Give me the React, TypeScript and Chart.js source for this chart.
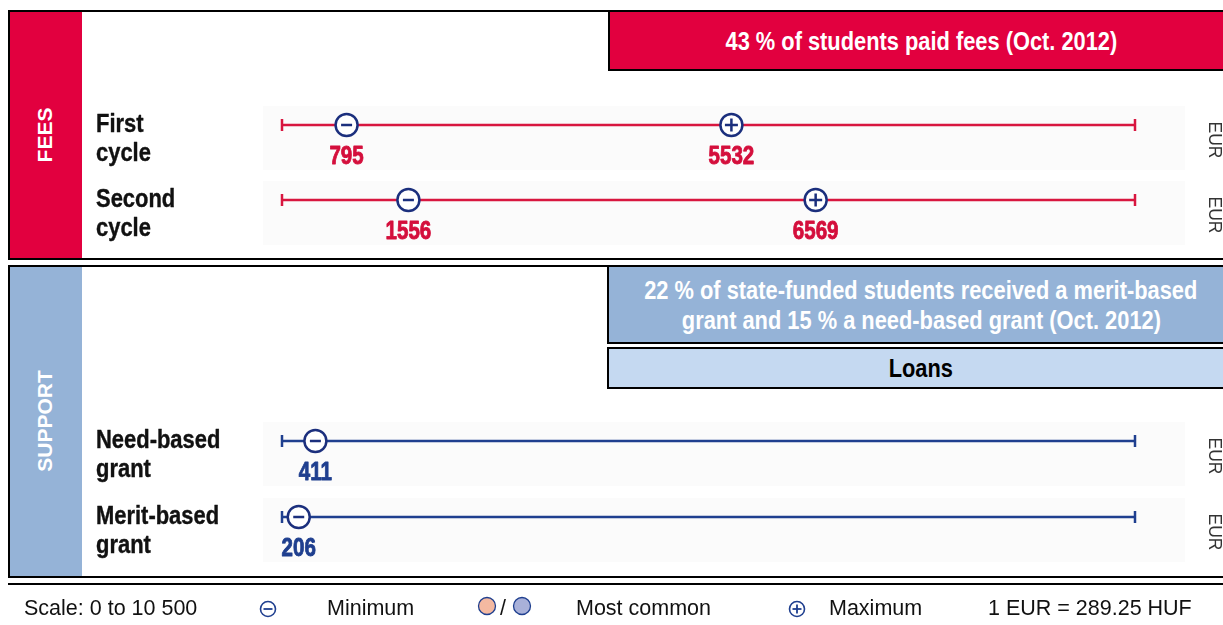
import React, { useEffect, useRef } from "react";
import { Chart, registerables } from "chart.js";

Chart.register(...registerables);

// ---------- data ----------
const SCALE_MIN = 0;
const SCALE_MAX = 10500;

const feesRows = ["First cycle", "Second cycle"];
const feesRowLines = [["First", "cycle"], ["Second", "cycle"]];
const feesMinimum = [795, 1556];
const feesMaximum = [5532, 6569];

const supportRows = ["Need-based grant", "Merit-based grant"];
const supportRowLines = [["Need-based", "grant"], ["Merit-based", "grant"]];
const supportMinimum = [411, 206];

const UNIT = "EUR";
const feesTitle = "FEES";
const supportTitle = "SUPPORT";
const feesNote = "43 % of students paid fees (Oct. 2012)";
const supportNote = [
  "22 % of state-funded students received a merit-based",
  "grant and 15 % a need-based grant (Oct. 2012)",
];
const loansNote = "Loans";
const legendScale = "Scale: 0 to 10 500";
const legendMin = "Minimum";
const legendCommon = "Most common";
const legendMax = "Maximum";
const legendRate = "1 EUR = 289.25 HUF";

// ---------- styles ----------
const RED_BG = "#e2003f";
const RED_LINE = "#d8163f";
const RED_TEXT = "#d40f3c";
const NAVY = "#1b2f7d";
const BLUE_LINE = "#1f3f8f";
const BLUE_TEXT = "#1f3f8f";
const BLUE_BG = "#95b3d7";
const LOANS_BG = "#c5d9f1";
const FONT = '"Liberation Sans", Arial, Helvetica, sans-serif';
const SQUEEZE = 0.873;

function drawSqueezed(ctx: CanvasRenderingContext2D, text: string, x: number, y: number, font: string, color: string, align: CanvasTextAlign, squeeze: number, extraBold: number) {
  ctx.save();
  ctx.translate(x, y);
  ctx.scale(squeeze, 1);
  ctx.font = font;
  ctx.fillStyle = color;
  ctx.textAlign = align;
  ctx.textBaseline = "alphabetic";
  ctx.fillText(text, 0, 0);
  if (extraBold > 0) {
    ctx.strokeStyle = color;
    ctx.lineWidth = extraBold;
    ctx.lineJoin = "round";
    ctx.strokeText(text, 0, 0);
  }
  ctx.restore();
}

function makeDecoPlugin(rowLines: string[][], mins: number[], maxs: number[] | null, valueColor: string) {
  return {
    id: "rowDeco",
    beforeDatasetsDraw(chart: any) {
      const { ctx, chartArea, scales } = chart;
      const y = scales.y;
      ctx.save();
      ctx.fillStyle = "#fbfbfb";
      rowLines.forEach((_l, i) => {
        const py = y.getPixelForValue(i);
        const left = chartArea.left - 19;
        const right = chartArea.right + 50;
        ctx.fillRect(left, py - 19, right - left, 64);
      });
      ctx.restore();
    },
    afterDatasetsDraw(chart: any) {
      const { ctx, chartArea, scales } = chart;
      const x = scales.x;
      const y = scales.y;
      rowLines.forEach((lines, i) => {
        const py = y.getPixelForValue(i);
        lines.forEach((ln, k) => {
          drawSqueezed(ctx, ln, 96, py + 7 + k * 29, `bold 25.5px ${FONT}`, "#111", "left", 0.86, 0.4);
        });
        drawSqueezed(ctx, String(mins[i]), x.getPixelForValue(mins[i]), py + 39, `bold 26px ${FONT}`, valueColor, "center", 0.79, 0.9);
        if (maxs) {
          drawSqueezed(ctx, String(maxs[i]), x.getPixelForValue(maxs[i]), py + 39, `bold 26px ${FONT}`, valueColor, "center", 0.79, 0.9);
        }
        ctx.save();
        ctx.translate(chartArea.right + 79, py + 15);
        ctx.rotate(Math.PI / 2);
        ctx.font = `17.5px ${FONT}`;
        ctx.fillStyle = "#333";
        ctx.textAlign = "center";
        ctx.textBaseline = "middle";
        ctx.fillText(UNIT, 0, 0);
        ctx.restore();
      });
    },
  };
}

function buildConfig(rows: string[], rowLines: string[][], mins: number[], maxs: number[] | null, lineColor: string, valueColor: string, padTop: number, padBottom: number) {
  const datasets: any[] = [];
  datasets.push({
    label: "min-sign",
    data: rows.map((r, i) => ({ x: mins[i], y: r })),
    showLine: false,
    pointStyle: "line",
    pointRadius: 5.5,
    pointBorderColor: NAVY,
    pointBorderWidth: 2.5,
    order: 1,
    clip: false,
  });
  if (maxs) {
    datasets.push({
      label: "max-sign",
      data: rows.map((r, i) => ({ x: maxs[i], y: r })),
      showLine: false,
      pointStyle: "cross",
      pointRadius: 6.5,
      pointBorderColor: NAVY,
      pointBorderWidth: 2.5,
      order: 1,
      clip: false,
    });
  }
  datasets.push({
    label: "Minimum",
    data: rows.map((r, i) => ({ x: mins[i], y: r })),
    showLine: false,
    pointStyle: "circle",
    pointRadius: 11,
    pointBackgroundColor: "#ffffff",
    pointBorderColor: NAVY,
    pointBorderWidth: 2.5,
    order: 2,
    clip: false,
  });
  if (maxs) {
    datasets.push({
      label: "Maximum",
      data: rows.map((r, i) => ({ x: maxs[i], y: r })),
      showLine: false,
      pointStyle: "circle",
      pointRadius: 11,
      pointBackgroundColor: "#ffffff",
      pointBorderColor: NAVY,
      pointBorderWidth: 2.5,
      order: 2,
      clip: false,
    });
  }
  rows.forEach((r) => {
    datasets.push({
      label: "range " + r,
      data: [
        { x: SCALE_MIN, y: r },
        { x: SCALE_MAX, y: r },
      ],
      borderColor: lineColor,
      borderWidth: 2.5,
      pointStyle: "line",
      pointRotation: 90,
      pointRadius: 6,
      pointBorderColor: lineColor,
      pointBorderWidth: 2.5,
      order: 3,
      clip: false,
    });
  });
  return {
    type: "line" as const,
    data: { datasets },
    options: {
      animation: false as const,
      responsive: false,
      events: [],
      layout: { padding: { left: 282, right: 88, top: padTop, bottom: padBottom } },
      scales: {
        x: { type: "linear" as const, min: SCALE_MIN, max: SCALE_MAX, display: false },
        y: { type: "category" as const, labels: rows, offset: true, display: false },
      },
      plugins: { legend: { display: false }, tooltip: { enabled: false } },
    },
    plugins: [makeDecoPlugin(rowLines, mins, maxs, valueColor)],
  };
}

function RowChart(props: { cfg: () => any }) {
  const ref = useRef<HTMLCanvasElement>(null);
  useEffect(() => {
    const chart = new Chart(ref.current as HTMLCanvasElement, props.cfg());
    return () => chart.destroy();
  }, []);
  return <canvas ref={ref} width={1223} height={625} style={{ position: "absolute", left: 0, top: 0 }} />;
}

function Sq(props: { children: any; size: number; color: string; lh: number }) {
  return (
    <span
      style={{
        display: "inline-block",
        whiteSpace: "nowrap",
        fontWeight: "bold",
        fontSize: props.size,
        color: props.color,
        lineHeight: props.lh + "px",
        transform: `scaleX(${SQUEEZE})`,
      }}
    >
      {props.children}
    </span>
  );
}

const abs = (s: any) => ({ position: "absolute" as const, boxSizing: "border-box" as const, ...s });
const boxCenter = {
  display: "flex",
  flexDirection: "column" as const,
  alignItems: "center",
  justifyContent: "center",
};

export default function App() {
  const legendText = { fontSize: 21.5, lineHeight: "21px", color: "#111", top: 598, whiteSpace: "nowrap" as const };
  return (
    <div style={abs({ left: 0, top: 0, width: 1223, height: 625, overflow: "hidden", background: "#fff", fontFamily: FONT })}>
      {/* FEES panel */}
      <div style={abs({ left: 8, top: 10, width: 1240, height: 250, border: "2px solid #000" })} />
      <div style={abs({ left: 10, top: 12, width: 72, height: 246, background: RED_BG })} />
      <div
        style={abs({ left: 45, top: 135, transform: "translate(-50%,-50%) rotate(-90deg)", color: "#fff", fontWeight: "bold", fontSize: 21, whiteSpace: "nowrap" })}
      >
        {feesTitle}
      </div>
      <div style={abs({ left: 608, top: 10, width: 626, height: 61, border: "2px solid #000", background: RED_BG, ...boxCenter })}>
        <Sq size={25} color="#fff" lh={30}>{feesNote}</Sq>
      </div>

      {/* SUPPORT panel */}
      <div style={abs({ left: 8, top: 265, width: 1240, height: 313, border: "2px solid #000" })} />
      <div style={abs({ left: 10, top: 267, width: 72, height: 309, background: BLUE_BG })} />
      <div
        style={abs({ left: 45, top: 421, transform: "translate(-50%,-50%) rotate(-90deg)", color: "#fff", fontWeight: "bold", fontSize: 21, whiteSpace: "nowrap" })}
      >
        {supportTitle}
      </div>
      <div style={abs({ left: 607, top: 265, width: 628, height: 79, border: "2px solid #000", background: BLUE_BG, ...boxCenter })}>
        {supportNote.map((t) => (
          <Sq key={t} size={25} color="#fff" lh={30}>
            {t}
          </Sq>
        ))}
      </div>
      <div style={abs({ left: 607, top: 347, width: 628, height: 42, border: "2px solid #000", background: LOANS_BG, ...boxCenter })}>
        <Sq size={25} color="#000" lh={30}>{loansNote}</Sq>
      </div>

      {/* separator */}
      <div style={abs({ left: 8, top: 583, width: 1240, height: 2, background: "#000" })} />

      {/* charts */}
      <RowChart cfg={() => buildConfig(feesRows, feesRowLines, feesMinimum, feesMaximum, RED_LINE, RED_TEXT, 87.5, 387.5)} />
      <RowChart cfg={() => buildConfig(supportRows, supportRowLines, supportMinimum, null, BLUE_LINE, BLUE_TEXT, 403, 70)} />

      {/* legend */}
      <svg style={abs({ left: 0, top: 590 })} width={1223} height={35}>
        <circle cx={268} cy={19} r={7.5} fill="none" stroke={BLUE_LINE} strokeWidth={1.6} />
        <line x1={263.5} x2={272.5} y1={19} y2={19} stroke={BLUE_LINE} strokeWidth={1.8} />
        <circle cx={487} cy={16} r={8.5} fill="#f4b9a1" stroke={BLUE_LINE} strokeWidth={1.3} />
        <circle cx={522} cy={16} r={8.5} fill="#a9b1d9" stroke={BLUE_LINE} strokeWidth={1.3} />
        <circle cx={797} cy={19} r={7.5} fill="none" stroke={BLUE_LINE} strokeWidth={1.6} />
        <line x1={792.5} x2={801.5} y1={19} y2={19} stroke={BLUE_LINE} strokeWidth={1.8} />
        <line x1={797} x2={797} y1={14.5} y2={23.5} stroke={BLUE_LINE} strokeWidth={1.8} />
      </svg>
      <div style={abs({ left: 24, ...legendText })}>{legendScale}</div>
      <div style={abs({ left: 327, ...legendText })}>{legendMin}</div>
      <div style={abs({ left: 500, ...legendText })}>/</div>
      <div style={abs({ left: 576, ...legendText })}>{legendCommon}</div>
      <div style={abs({ left: 829, ...legendText })}>{legendMax}</div>
      <div style={abs({ left: 988, ...legendText })}>{legendRate}</div>
    </div>
  );
}
